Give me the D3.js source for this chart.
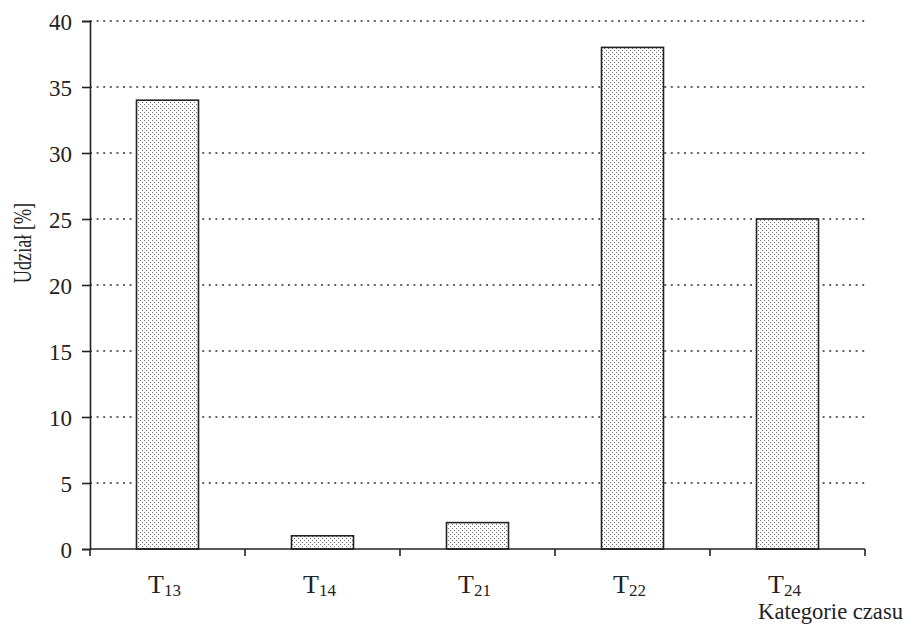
<!DOCTYPE html>
<html><head><meta charset="utf-8">
<script src="https://cdn.jsdelivr.net/npm/d3@7"></script>
<style>body{margin:0;background:#fff}svg{display:block}</style>
</head><body>
<svg id="c" width="909" height="625" font-family="'Liberation Serif', 'Times New Roman', 'DejaVu Serif', serif"></svg>
<script>
const categories = ["13", "14", "21", "22", "24"];
const values = [34, 1, 2, 38, 25];
const yTicks = [0, 5, 10, 15, 20, 25, 30, 35, 40];

const FONT = "'Liberation Serif', 'Times New Roman', 'DejaVu Serif', serif";
const svg = d3.select("#c");
const m = {l: 90, r: 44, t: 21, b: 76};
const W = 909, H = 625;
const x = d3.scaleBand().domain(categories).range([m.l, W - m.r]).paddingInner(0).paddingOuter(0);
const y = d3.scaleLinear().domain([0, 40]).range([H - m.b, m.t]);

const defs = svg.append("defs");
const pat = defs.append("pattern").attr("id", "dots").attr("patternUnits", "userSpaceOnUse")
  .attr("width", 4).attr("height", 4);
pat.append("rect").attr("width", 4).attr("height", 4).attr("fill", "#fff");
pat.append("rect").attr("x", 0).attr("y", 0).attr("width", 1).attr("height", 1).attr("fill", "#6a6a6a");
pat.append("rect").attr("x", 2).attr("y", 2).attr("width", 1).attr("height", 1).attr("fill", "#6a6a6a");

// gridlines
svg.append("g").selectAll("line").data(yTicks.filter(d => d > 0)).join("line")
  .attr("x1", m.l).attr("x2", W - m.r).attr("y1", d => y(d)).attr("y2", d => y(d))
  .attr("stroke", "#333").attr("stroke-width", 1.4).attr("stroke-dasharray", "2,4.6");

// bars
const bw = x.bandwidth() * 0.4;
svg.append("g").selectAll("rect").data(categories).join("rect")
  .attr("x", (d) => x(d) + x.bandwidth() / 2 - bw / 2)
  .attr("y", (d, i) => y(values[i]))
  .attr("width", bw)
  .attr("height", (d, i) => y(0) - y(values[i]))
  .attr("fill", "url(#dots)").attr("stroke", "#222").attr("stroke-width", 1.6);

// y axis
const ya = svg.append("g").attr("transform", `translate(${m.l},0)`)
  .call(d3.axisLeft(y).tickValues(yTicks).tickSize(8).tickPadding(10));
ya.attr("font-family", FONT).attr("font-size", 23);
ya.select(".domain").attr("stroke", "#222").attr("stroke-width", 1.6);
ya.selectAll(".tick line").attr("stroke", "#222").attr("stroke-width", 1.6);
ya.selectAll(".tick text").attr("fill", "#222").attr("dy", "0.38em");

// x axis
const xa = svg.append("g").attr("transform", `translate(0,${y(0)})`).attr("font-family", FONT);
xa.append("line").attr("x1", m.l).attr("x2", W - m.r).attr("stroke", "#222").attr("stroke-width", 1.6);
const bounds = categories.map(d => x(d)).concat([W - m.r]);
xa.selectAll(".tk").data(bounds).join("line").attr("class", "tk")
  .attr("x1", d => d).attr("x2", d => d).attr("y1", 0).attr("y2", 7)
  .attr("stroke", "#222").attr("stroke-width", 1.6);
const lbl = xa.selectAll(".lb").data(categories).join("text").attr("class", "lb")
  .attr("x", d => x(d) + x.bandwidth() / 2 - 3).attr("y", 44).attr("text-anchor", "middle")
  .attr("font-size", 26).attr("fill", "#222");
lbl.append("tspan").text("T");
lbl.append("tspan").attr("dy", 3).attr("font-size", 17).text(d => d);

svg.append("text").attr("x", 903).attr("y", 619).attr("text-anchor", "end")
  .attr("font-family", FONT).attr("font-size", 22.6).attr("fill", "#222").text("Kategorie czasu");

svg.append("text").attr("transform", `translate(31,243) rotate(-90) scale(0.7,1)`)
  .attr("text-anchor", "middle").attr("font-family", FONT).attr("font-size", 26).attr("fill", "#222").text("Udział [%]");
</script>
</body></html>
